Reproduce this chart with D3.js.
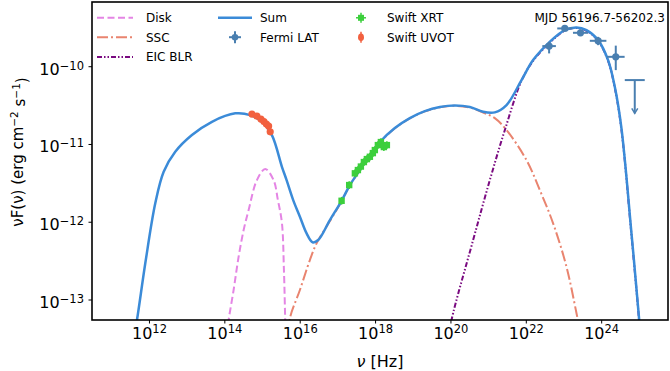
<!DOCTYPE html>
<html>
<head>
<meta charset="utf-8">
<script src="https://cdn.jsdelivr.net/npm/d3@7"></script>
<style>
body { margin: 0; background: #fff; }
text { font-family: "DejaVu Sans", sans-serif; fill: #000; }
</style>
</head>
<body>
<div class="canvas"></div>
<script>
'use strict';

// all values are log10(nu / Hz) and log10(nuFnu / erg cm^-2 s^-1)
const sumCurve = [
    [11.615, -13.386], [11.668, -13.257], [11.889, -12.528], [12.154, -11.757], [12.377, -11.351],
    [12.684, -11.094], [13.127, -10.879], [13.658, -10.708], [14.276, -10.600], [14.674, -10.622],
    [14.984, -10.708], [15.249, -10.879], [15.515, -11.287], [15.639, -11.458], [15.814, -11.715],
    [15.992, -11.929], [16.170, -12.143], [16.329, -12.258], [16.477, -12.229], [16.788, -11.972],
    [17.098, -11.724], [17.318, -11.522], [17.584, -11.329], [17.849, -11.136], [18.114, -10.969],
    [18.512, -10.789], [18.910, -10.661], [19.308, -10.571], [19.706, -10.519], [20.104, -10.500],
    [20.501, -10.519], [20.854, -10.580], [21.164, -10.587], [21.475, -10.494], [21.873, -10.172],
    [22.180, -9.915], [22.623, -9.680], [23.021, -9.530], [23.332, -9.495], [23.597, -9.530],
    [23.905, -9.658], [24.170, -9.915], [24.348, -10.258], [24.525, -10.793], [24.790, -12.139],
    [24.992, -13.235], [25.024, -13.450]
];

const diskCurve = [
    [14.056, -13.450], [14.101, -13.257], [14.233, -12.871], [14.366, -12.443], [14.499, -12.100],
    [14.631, -11.843], [14.851, -11.458], [15.072, -11.316], [15.294, -11.458], [15.408, -11.715],
    [15.515, -12.010], [15.568, -12.614], [15.602, -13.257], [15.613, -13.450]
];

const sscCurve = [
    [15.700, -13.450], [15.727, -13.235], [15.992, -12.871], [16.257, -12.486], [16.435, -12.271],
    [16.788, -11.985], [17.098, -11.730], [17.318, -11.525], [17.584, -11.332], [17.849, -11.140],
    [18.114, -10.972], [18.512, -10.792], [18.910, -10.664], [19.308, -10.574], [19.706, -10.522],
    [20.104, -10.503], [20.501, -10.525], [20.854, -10.590], [21.164, -10.661], [21.475, -10.815],
    [22.005, -11.201], [22.358, -11.586], [22.711, -12.014], [23.066, -12.572], [23.332, -13.171],
    [23.419, -13.386]
];

const eicCurve = [
    [19.958, -13.450], [20.016, -13.257], [20.589, -12.229], [21.032, -11.458], [21.430, -10.815],
    [21.873, -10.180], [22.180, -9.925], [22.623, -9.690], [23.021, -9.537], [23.332, -9.502],
    [23.597, -9.538], [23.905, -9.667], [24.170, -9.925], [24.348, -10.270], [24.525, -10.810],
    [24.790, -12.160], [24.992, -13.257], [25.020, -13.450]
];

// Fermi LAT: nu, half bin width (dex), flux, flux low, flux high
const fermiNu = [22.605, 23.021, 23.438, 23.905, 24.374];
const fermiNuErr = [0.18, 0.20, 0.20, 0.22, 0.235];
const fermiFlux = [-9.735, -9.508, -9.564, -9.667, -9.873];
const fermiFluxLo = [-9.829, -9.530, -9.590, -9.723, -10.044];
const fermiFluxHi = [-9.680, -9.488, -9.540, -9.616, -9.729];
// Fermi upper limit
const ulNu = [24.878];
const ulNuErr = [0.265];
const ulFlux = [-10.172];
const ulArrowTo = [-10.600];

const xrtNu = [17.098, 17.300, 17.451, 17.531, 17.610, 17.690, 17.769, 17.849, 17.928, 17.981, 18.061, 18.141, 18.220, 18.300];
const xrtFlux = [-11.724, -11.522, -11.371, -11.329, -11.284, -11.226, -11.188, -11.158, -11.111, -11.072, -11.008, -10.969, -11.033, -11.008];

const uvotNu = [14.719, 14.851, 14.958, 15.037, 15.103, 15.162, 15.204];
const uvotFlux = [-10.609, -10.635, -10.674, -10.706, -10.738, -10.764, -10.837];

const xTickExp = [12, 14, 16, 18, 20, 22, 24];
const yTickExp = [-13, -12, -11, -10];

const colours = {
    sum: '#3b8bd8', disk: '#e485e4', ssc: '#e9846f', eic: '#7a0a80',
    fermi: '#4a7fb0', xrt: '#3ccf3c', uvot: '#f2603f'
};

const p = v => Math.pow(10, v);

const dims = { width: 670, height: 371, left: 92, right: 668, top: 2, bottom: 320 };

const svg = d3.select('.canvas')
    .append('svg')
    .attr('width', dims.width)
    .attr('height', dims.height);

svg.append('rect').attr('width', dims.width).attr('height', dims.height).attr('fill', '#fff');

const x = d3.scaleLog()
    .domain([p(10.475), p(25.76)])
    .range([dims.left, dims.right]);

const y = d3.scaleLog()
    .domain([p(-13.257), p(-9.168)])
    .range([dims.bottom, dims.top]);

svg.append('clipPath').attr('id', 'plotclip')
    .append('rect')
    .attr('x', dims.left).attr('y', dims.top)
    .attr('width', dims.right - dims.left).attr('height', dims.bottom - dims.top);

const plot = svg.append('g').attr('clip-path', 'url(#plotclip)');

const line = d3.line()
    .x(d => x(p(d[0])))
    .y(d => y(p(d[1])))
    .curve(d3.curveCatmullRom.alpha(0.5));

plot.append('path').datum(diskCurve)
    .attr('d', line).attr('fill', 'none')
    .attr('stroke', colours.disk).attr('stroke-width', 2)
    .attr('stroke-dasharray', '7,3.5');

plot.append('path').datum(sscCurve)
    .attr('d', line).attr('fill', 'none')
    .attr('stroke', colours.ssc).attr('stroke-width', 2)
    .attr('stroke-dasharray', '11,3,2,3');

plot.append('path').datum(eicCurve)
    .attr('d', line).attr('fill', 'none')
    .attr('stroke', colours.eic).attr('stroke-width', 2)
    .attr('stroke-dasharray', '5,2,1.5,2,1.5,2');

plot.append('path').datum(sumCurve)
    .attr('d', line).attr('fill', 'none')
    .attr('stroke', colours.sum).attr('stroke-width', 2.5);

// Swift UVOT
const uvot = plot.append('g');
uvotNu.forEach((nu, i) => {
    const cx = x(p(nu)), cy = y(p(uvotFlux[i]));
    uvot.append('line').attr('x1', cx).attr('x2', cx).attr('y1', cy - 3).attr('y2', cy + 3)
        .attr('stroke', colours.uvot).attr('stroke-width', 1.5);
    uvot.append('circle').attr('cx', cx).attr('cy', cy).attr('r', 3.6).attr('fill', colours.uvot);
});

// Swift XRT
const xrt = plot.append('g');
xrtNu.forEach((nu, i) => {
    const cx = x(p(nu)), cy = y(p(xrtFlux[i]));
    xrt.append('line').attr('x1', x(p(nu - 0.06))).attr('x2', x(p(nu + 0.06))).attr('y1', cy).attr('y2', cy)
        .attr('stroke', colours.xrt).attr('stroke-width', 1.5);
    xrt.append('line').attr('x1', cx).attr('x2', cx)
        .attr('y1', y(p(xrtFlux[i] + 0.05))).attr('y2', y(p(xrtFlux[i] - 0.05)))
        .attr('stroke', colours.xrt).attr('stroke-width', 1.5);
    xrt.append('rect').attr('x', cx - 3.2).attr('y', cy - 3.2).attr('width', 6.4).attr('height', 6.4)
        .attr('fill', colours.xrt);
});

// Fermi LAT
const fermi = plot.append('g');
fermiNu.forEach((nu, i) => {
    const cx = x(p(nu)), cy = y(p(fermiFlux[i]));
    fermi.append('line')
        .attr('x1', x(p(nu - fermiNuErr[i]))).attr('x2', x(p(nu + fermiNuErr[i])))
        .attr('y1', cy).attr('y2', cy)
        .attr('stroke', colours.fermi).attr('stroke-width', 2);
    fermi.append('line').attr('x1', cx).attr('x2', cx)
        .attr('y1', y(p(fermiFluxHi[i]))).attr('y2', y(p(fermiFluxLo[i])))
        .attr('stroke', colours.fermi).attr('stroke-width', 2);
    fermi.append('circle').attr('cx', cx).attr('cy', cy).attr('r', 3.6).attr('fill', colours.fermi);
});

ulNu.forEach((nu, i) => {
    const cx = x(p(nu)), cy = y(p(ulFlux[i])), cy2 = y(p(ulArrowTo[i]));
    fermi.append('line')
        .attr('x1', x(p(nu - ulNuErr[i]))).attr('x2', x(p(nu + ulNuErr[i])))
        .attr('y1', cy).attr('y2', cy)
        .attr('stroke', colours.fermi).attr('stroke-width', 2);
    fermi.append('line').attr('x1', cx).attr('x2', cx).attr('y1', cy).attr('y2', cy2)
        .attr('stroke', colours.fermi).attr('stroke-width', 2);
    fermi.append('path')
        .attr('d', `M${cx - 3},${cy2 - 5}L${cx},${cy2}L${cx + 3},${cy2 - 5}`)
        .attr('fill', 'none').attr('stroke', colours.fermi).attr('stroke-width', 1.5);
});

// frame
svg.append('rect')
    .attr('x', dims.left).attr('y', dims.top)
    .attr('width', dims.right - dims.left).attr('height', dims.bottom - dims.top)
    .attr('fill', 'none').attr('stroke', '#000').attr('stroke-width', 1.6);

// x ticks
const xTicks = svg.append('g');
xTickExp.forEach(e => {
    const tx = x(p(e));
    xTicks.append('line').attr('x1', tx).attr('x2', tx).attr('y1', dims.bottom).attr('y2', dims.bottom + 3.5)
        .attr('stroke', '#000').attr('stroke-width', 1);
    const t = xTicks.append('text').attr('x', tx).attr('y', 338.5)
        .attr('text-anchor', 'middle').attr('font-size', 16);
    t.append('tspan').text('10');
    t.append('tspan').attr('dy', '-0.45em').attr('font-size', 11.5).text(e);
});

// y ticks
const yTicks = svg.append('g');
yTickExp.forEach(e => {
    const ty = y(p(e));
    yTicks.append('line').attr('x1', dims.left - 3.5).attr('x2', dims.left).attr('y1', ty).attr('y2', ty)
        .attr('stroke', '#000').attr('stroke-width', 1);
    const t = yTicks.append('text').attr('x', 84).attr('y', ty + 8)
        .attr('text-anchor', 'end').attr('font-size', 16);
    t.append('tspan').text('10');
    t.append('tspan').attr('dy', '-0.45em').attr('font-size', 11.5).text('\u2212' + Math.abs(e));
});

// axis labels
const xl = svg.append('text').attr('x', (dims.left + dims.right) / 2).attr('y', 367)
    .attr('text-anchor', 'middle').attr('font-size', 16);
xl.append('tspan').attr('font-style', 'italic').text('\u03bd');
xl.append('tspan').text(' [Hz]');

const yl = svg.append('text')
    .attr('transform', 'translate(23,152) rotate(-90)')
    .attr('text-anchor', 'middle').attr('font-size', 15);
yl.append('tspan').text('\u03bdF(\u03bd) (erg cm');
yl.append('tspan').attr('dy', '-0.45em').attr('font-size', 10.5).text('\u22122');
yl.append('tspan').attr('dy', '0.45em').text(' s');
yl.append('tspan').attr('dy', '-0.45em').attr('font-size', 10.5).text('\u22121');
yl.append('tspan').attr('dy', '0.45em').text(')');

// MJD label
svg.append('text').attr('x', 665).attr('y', 22).attr('text-anchor', 'end').attr('font-size', 12)
    .text('MJD 56196.7-56202.3');

// legend
const legend = svg.append('g');
const rows = [17.8, 37.2, 56.9];
const lineItems = [
    { name: 'Disk', col: 0, row: 0, colour: colours.disk, dash: '7,3.5', w: 2 },
    { name: 'SSC', col: 0, row: 1, colour: colours.ssc, dash: '11,3,2,3', w: 2 },
    { name: 'EIC BLR', col: 0, row: 2, colour: colours.eic, dash: '5,2,1.5,2,1.5,2', w: 2 },
    { name: 'Sum', col: 1, row: 0, colour: colours.sum, dash: null, w: 2.5 }
];
const colX = [{ h0: 97, h1: 133, t: 146 }, { h0: 218, h1: 252, t: 260 }, { h0: 350, h1: 372, t: 387 }];

lineItems.forEach(d => {
    const c = colX[d.col], ry = rows[d.row];
    legend.append('line').attr('x1', c.h0).attr('x2', c.h1).attr('y1', ry).attr('y2', ry)
        .attr('stroke', d.colour).attr('stroke-width', d.w)
        .attr('stroke-dasharray', d.dash);
    legend.append('text').attr('x', c.t).attr('y', ry + 4.5).attr('font-size', 12).text(d.name);
});

const markerItems = [
    { name: 'Fermi LAT', col: 1, row: 1, kind: 'fermi' },
    { name: 'Swift XRT', col: 2, row: 0, kind: 'xrt' },
    { name: 'Swift UVOT', col: 2, row: 1, kind: 'uvot' }
];

markerItems.forEach(d => {
    const c = colX[d.col], ry = rows[d.row];
    const mx = (c.h0 + c.h1) / 2;
    const g = legend.append('g');
    if (d.kind === 'fermi') {
        g.append('line').attr('x1', mx - 6).attr('x2', mx + 6).attr('y1', ry).attr('y2', ry)
            .attr('stroke', colours.fermi).attr('stroke-width', 2);
        g.append('line').attr('x1', mx).attr('x2', mx).attr('y1', ry - 6).attr('y2', ry + 6)
            .attr('stroke', colours.fermi).attr('stroke-width', 2);
        g.append('circle').attr('cx', mx).attr('cy', ry).attr('r', 3.3).attr('fill', colours.fermi);
    } else if (d.kind === 'xrt') {
        g.append('line').attr('x1', mx - 5).attr('x2', mx + 5).attr('y1', ry).attr('y2', ry)
            .attr('stroke', colours.xrt).attr('stroke-width', 1.5);
        g.append('line').attr('x1', mx).attr('x2', mx).attr('y1', ry - 5).attr('y2', ry + 5)
            .attr('stroke', colours.xrt).attr('stroke-width', 1.5);
        g.append('rect').attr('x', mx - 3).attr('y', ry - 3).attr('width', 6).attr('height', 6)
            .attr('fill', colours.xrt);
    } else {
        g.append('line').attr('x1', mx).attr('x2', mx).attr('y1', ry - 5.5).attr('y2', ry + 5.5)
            .attr('stroke', colours.uvot).attr('stroke-width', 1.5);
        g.append('ellipse').attr('cx', mx).attr('cy', ry).attr('rx', 3).attr('ry', 3.8).attr('fill', colours.uvot);
    }
    legend.append('text').attr('x', c.t).attr('y', ry + 4.5).attr('font-size', 12).text(d.name);
});
</script>
</body>
</html>
